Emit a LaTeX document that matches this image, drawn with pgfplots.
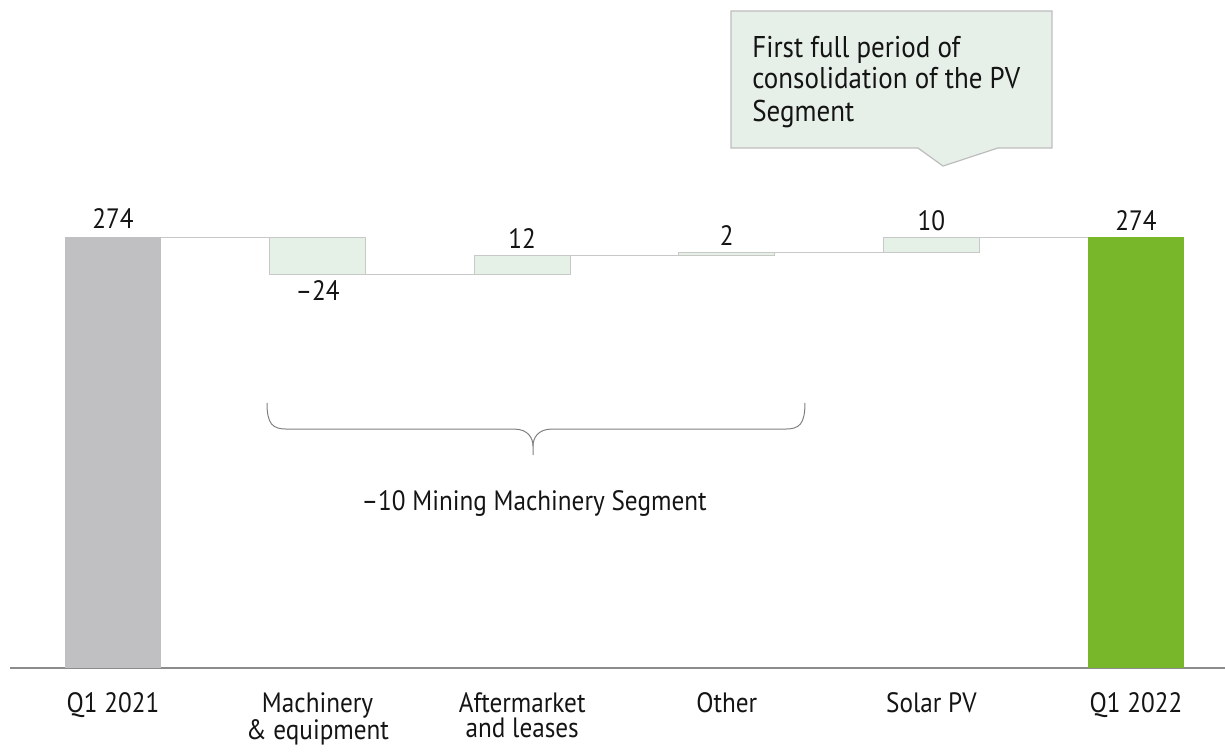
\documentclass[border=0pt]{standalone}
\usepackage{fontspec}
\setmainfont{PT Sans}[FakeStretch=0.9]
\usepackage{pgfplots}
\pgfplotsset{compat=1.18}

\definecolor{startgray}{HTML}{C0C0C2}
\definecolor{endgreen}{HTML}{78B72A}
\definecolor{deltafill}{HTML}{E5F0E7}
\definecolor{edgegray}{HTML}{C8C8C8}
\definecolor{axisgray}{HTML}{8C8C8C}
\definecolor{bracegray}{HTML}{808080}
\definecolor{calloutfill}{HTML}{E6F0E8}
\definecolor{calloutedge}{HTML}{BDBDBD}
\definecolor{txt}{HTML}{141414}

\newcommand\lblfont{\fontsize{14}{12.5}\selectfont}
\newcommand\calloutfont{\fontsize{15}{16}\selectfont}

\begin{document}
\begin{tikzpicture}
\begin{axis}[
    scale only axis, width=612.5pt, height=334pt,
    xmin=-0.5523, xmax=5.435, ymin=0, ymax=424.67,
    ybar stacked, bar width=0.469,
    axis y line=none, axis x line*=bottom,
    x axis line style={draw=none},
    xtick={0,...,5},
    xticklabels={Q1 2021, {Machinery\\\& equipment}, {Aftermarket\\and leases}, Other, Solar PV, Q1 2022},
    major tick length=0pt,
    xticklabel style={align=center, anchor=north, inner sep=0pt, yshift=-12pt, font=\lblfont, text=txt},
    clip=false,
  ]
  % invisible base of the floating bars
  \addplot[draw=none, fill=none] coordinates {(0,0) (1,250) (2,250) (3,262) (4,264) (5,0)};
  \addplot[draw=none, fill=startgray] coordinates {(0,274) (1,0) (2,0) (3,0) (4,0) (5,0)};
  \addplot[draw=edgegray, fill=deltafill, line width=0.5pt] coordinates {(0,0) (1,24) (2,12) (3,2) (4,10) (5,0)};
  \addplot[draw=none, fill=endgreen] coordinates {(0,0) (1,0) (2,0) (3,0) (4,0) (5,274)};

  % connectors
  \draw[edgegray, line width=0.5pt] (axis cs:0.2345,274) -- (axis cs:0.7655,274);
  \draw[edgegray, line width=0.5pt] (axis cs:1.2345,250) -- (axis cs:1.7655,250);
  \draw[edgegray, line width=0.5pt] (axis cs:2.2345,262) -- (axis cs:2.7655,262);
  \draw[edgegray, line width=0.5pt] (axis cs:3.2345,264) -- (axis cs:3.7655,264);
  \draw[edgegray, line width=0.5pt] (axis cs:4.2345,274) -- (axis cs:4.7655,274);

  % baseline
  \draw[axisgray, line width=1pt] (axis cs:-0.503,0) -- (axis cs:5.435,0);

  % value labels
  \node[anchor=base, font=\lblfont, text=txt] at (axis cs:0,279.1) {274};
  \node[anchor=north, inner sep=0pt, font=\lblfont, text=txt] at (axis cs:1,246.7) {–24};
  \node[anchor=base, font=\lblfont, text=txt] at (axis cs:2,267.0) {12};
  \node[anchor=base, font=\lblfont, text=txt] at (axis cs:3,268.9) {2};
  \node[anchor=base, font=\lblfont, text=txt] at (axis cs:4,278.4) {10};
  \node[anchor=base, font=\lblfont, text=txt] at (axis cs:5,278.4) {274};

  % brace
  \draw[bracegray, line width=0.5pt]
    (axis cs:0.7527,168.5) .. controls (axis cs:0.7527,155) and (axis cs:0.78,151.9) .. (axis cs:0.85,151.9)
    -- (axis cs:1.96,151.9) .. controls (axis cs:2.03,151.9) and (axis cs:2.0528,146) .. (axis cs:2.0528,141)
    -- (axis cs:2.0528,135.4);
  \draw[bracegray, line width=0.5pt]
    (axis cs:3.382,168.5) .. controls (axis cs:3.382,155) and (axis cs:3.355,151.9) .. (axis cs:3.285,151.9)
    -- (axis cs:2.145,151.9) .. controls (axis cs:2.075,151.9) and (axis cs:2.0528,146) .. (axis cs:2.0528,141);
  \node[anchor=base, font=\lblfont, text=txt] at (axis cs:2.058,100.4) {–10 Mining Machinery Segment};

  % callout anchors
  \coordinate (cb1) at (axis cs:3.0205,417.7);
  \coordinate (cb2) at (axis cs:4.589,417.7);
  \coordinate (cb3) at (axis cs:4.589,330.6);
  \coordinate (cb4) at (axis cs:4.325,330.6);
  \coordinate (cb5) at (axis cs:4.057,319.1);
  \coordinate (cb6) at (axis cs:3.934,330.6);
  \coordinate (cb7) at (axis cs:3.0205,330.6);
  \coordinate (ct1) at (axis cs:3.123,388.4);
  \coordinate (ct2) at (axis cs:3.123,368.1);
  \coordinate (ct3) at (axis cs:3.123,347.7);

  \coordinate (bbsw) at (axis cs:-0.5523,-53.4);
  \coordinate (bbne) at (axis cs:5.435,424.67);
\end{axis}
\draw[fill=calloutfill, draw=calloutedge, line width=0.6pt]
  (cb1) -- (cb2) -- (cb3) -- (cb4) -- (cb5) -- (cb6) -- (cb7) -- cycle;
\node[anchor=base west, inner sep=0pt, font=\calloutfont, text=txt] at (ct1) {First full period of};
\node[anchor=base west, inner sep=0pt, font=\calloutfont, text=txt] at (ct2) {consolidation of the PV};
\node[anchor=base west, inner sep=0pt, font=\calloutfont, text=txt] at (ct3) {Segment};
\pgfresetboundingbox
\path[use as bounding box] (bbsw) rectangle (bbne);
\end{tikzpicture}
\end{document}
